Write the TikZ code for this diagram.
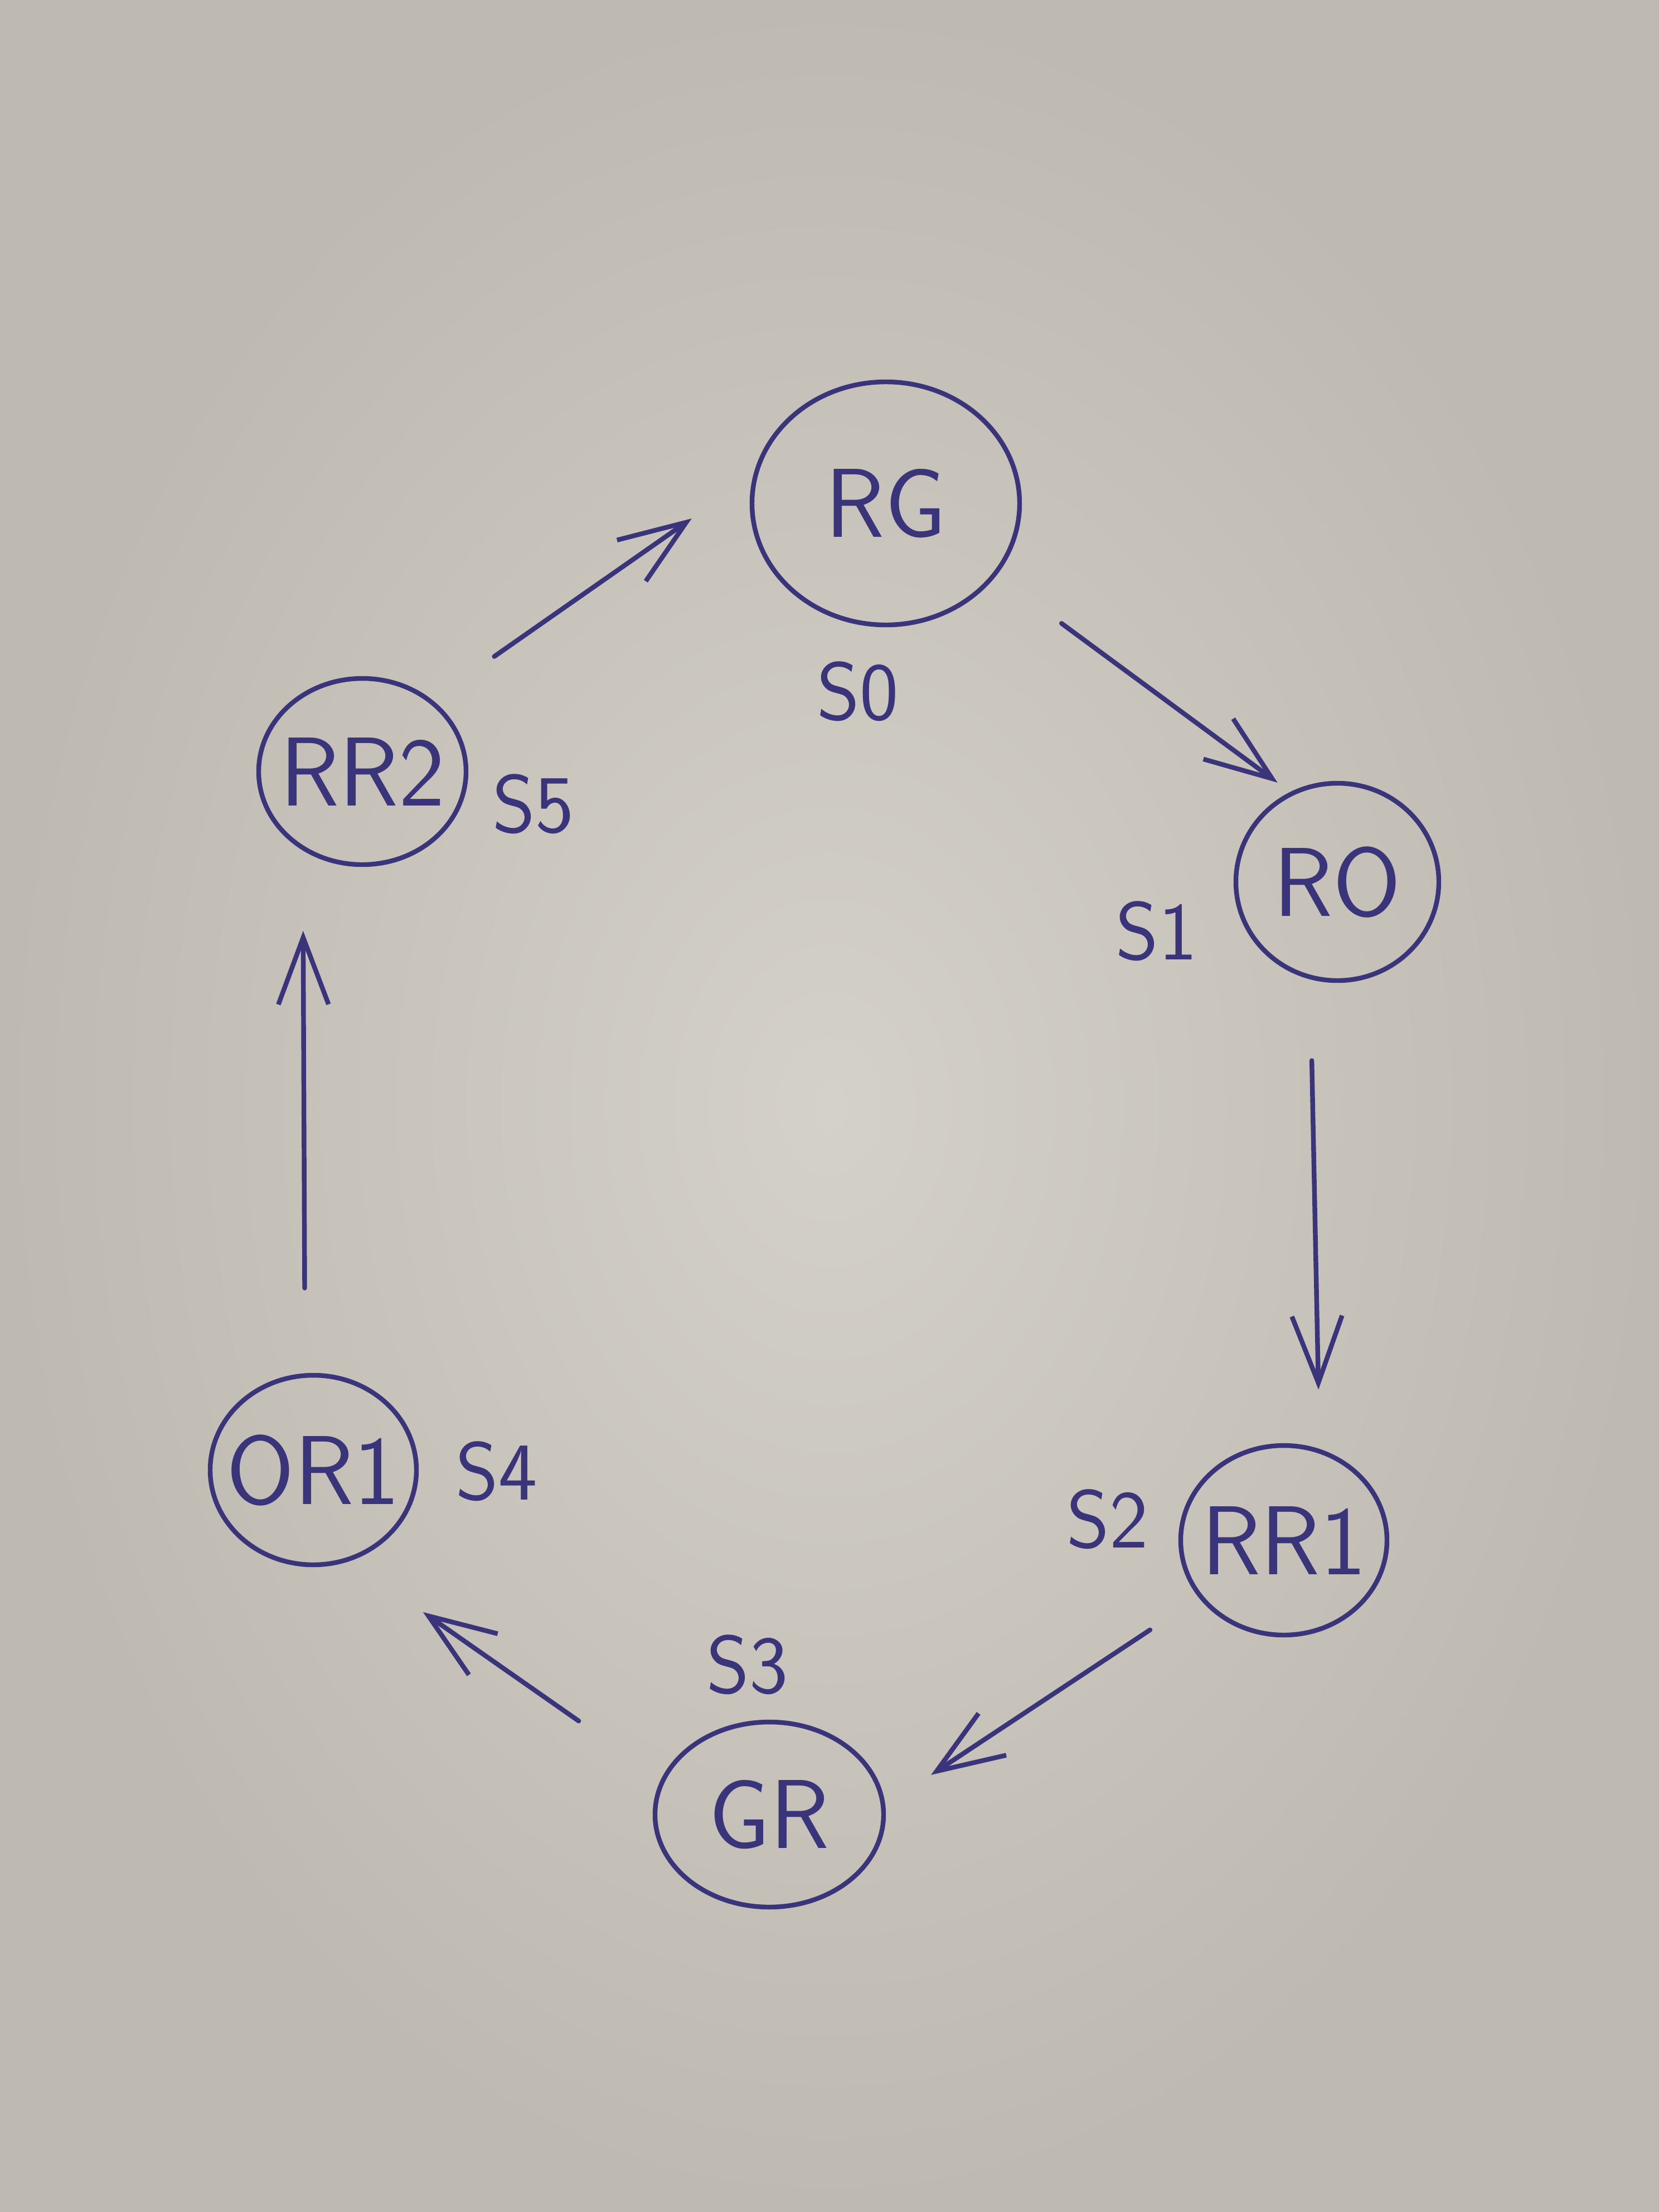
\documentclass[tikz,border=0pt]{standalone}
\usepackage{tikz}
\usetikzlibrary{shapes.geometric,arrows.meta}
\definecolor{ink}{RGB}{58,52,122}
\definecolor{paperlight}{RGB}{212,209,200}
\definecolor{paperdark}{RGB}{190,185,177}

\begin{document}
\begin{tikzpicture}[
    >={Straight Barb[length=12mm,width=9mm]},
    state/.style={ellipse, draw=ink, line width=2.4pt, inner sep=0pt, outer sep=0pt},
    statetext/.style={text=ink, font=\sffamily\fontsize{50}{60}\selectfont},
    tag/.style={text=ink, font=\sffamily\fontsize{42}{50}\selectfont},
    link/.style={->, draw=ink, line width=2.4pt, line cap=round}
  ]
  \shade[inner color=paperlight, outer color=paperdark] (0,0) rectangle (29.76,-39.68);
  \useasboundingbox (0,0) rectangle (29.76,-39.68);

  % states
  \node[state, minimum width=4.80cm, minimum height=4.36cm, label={[statetext]center:RG}] (rg) at (15.89,-9.03) {};
  \node[state, minimum width=3.64cm, minimum height=3.54cm, label={[statetext]center:RO}] (ro) at (23.99,-15.82) {};
  \node[state, minimum width=3.70cm, minimum height=3.40cm, label={[statetext]center:RR1}] (rr1) at (23.03,-27.63) {};
  \node[state, minimum width=4.10cm, minimum height=3.32cm, label={[statetext]center:GR}] (gr) at (13.80,-32.55) {};
  \node[state, minimum width=3.70cm, minimum height=3.40cm, label={[statetext]center:OR1}] (or1) at (5.62,-26.37) {};
  \node[state, minimum width=3.72cm, minimum height=3.34cm, label={[statetext]center:RR2}] (rr2) at (6.50,-13.84) {};

  % state numbers
  \node[tag] (s0) at (15.39,-12.40) {S0};
  \node[tag] (s1) at (20.75,-16.70) {S1};
  \node[tag] (s2) at (19.87,-27.25) {S2};
  \node[tag] (s3) at (13.41,-29.86) {S3};
  \node[tag] (s4) at (8.91,-26.39) {S4};
  \node[tag] (s5) at (9.57,-14.42) {S5};

  % transitions
  \draw[link, shorten <=1.40cm, shorten >=1.41cm] (rr2.46) -- (rg.167);
  \draw[link, shorten <=1.49cm, shorten >=0.33cm] (rg.327) -- (ro.117);
  \draw[link, shorten <=1.50cm, shorten >=1.11cm] (ro.254) -- (rr1.68);
  \draw[link, shorten <=1.09cm, shorten >=1.03cm] (rr1.214) -- (gr.4);
  \draw[link, shorten <=1.85cm, shorten >=1.65cm] (gr.162) -- (or1.291);
  \draw[link, shorten <=1.57cm, shorten >=1.49cm] (or1.95) -- (rr2.232);
\end{tikzpicture}
\end{document}
